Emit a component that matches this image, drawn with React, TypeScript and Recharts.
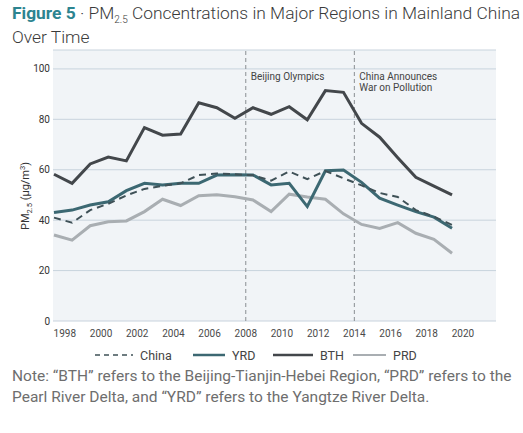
import React from "react";
import {
  LineChart,
  Line,
  XAxis,
  YAxis,
  CartesianGrid,
  ReferenceLine,
  Legend,
  Label,
} from "recharts";

const years = [1998, 1999, 2000, 2001, 2002, 2003, 2004, 2005, 2006, 2007, 2008, 2009, 2010, 2011, 2012, 2013, 2014, 2015, 2016, 2017, 2018, 2019, 2020];
const china = [41, 39, 44, 46.5, 49.8, 52.4, 53.6, 54.6, 57.9, 58.5, 58.2, 57.8, 55.7, 59.3, 56.3, 59.5, 56.6, 53.8, 50.8, 49.2, 44, 41.4, 38.1];
const yrd = [43, 44, 46, 47.3, 51.7, 54.6, 54, 54.6, 54.6, 57.9, 58, 57.9, 54, 54.6, 45.4, 59.6, 59.9, 55, 48.7, 46, 43.4, 41.2, 36.8];
const bth = [58.2, 54.6, 62.3, 65.0, 63.5, 76.7, 73.7, 74.2, 86.6, 84.6, 80.4, 84.6, 82.0, 85.0, 79.8, 91.4, 90.7, 78.4, 72.9, 64.8, 57.0, 53.5, 50.0];
const prd = [34.1, 32.1, 37.8, 39.4, 39.7, 43.4, 48.3, 45.8, 49.7, 50.1, 49.3, 48, 43.4, 50.3, 49.2, 48.3, 42.5, 38.3, 36.7, 39, 34.8, 32.4, 26.9];
const tickYears = [1998, 2000, 2002, 2004, 2006, 2008, 2010, 2012, 2014, 2016, 2018, 2020];
const yTicks = [0, 20, 40, 60, 80, 100];
const events = [
  { year: 2008, lines: ["Beijing Olympics"] },
  { year: 2014, lines: ["China Announces", "War on Pollution"] },
];
const seriesNames = ["China", "YRD", "BTH", "PRD"];

const TICK_SHIFT = 0.6;

const data = years.map((y, i) => ({
  year: y,
  China: china[i],
  YRD: yrd[i],
  BTH: bth[i],
  PRD: prd[i],
}));

const COLORS: Record<string, string> = {
  China: "#3f5157",
  YRD: "#3c6872",
  BTH: "#43474b",
  PRD: "#a9aeb2",
};
const FONT = "Roboto, 'Liberation Sans', Arial, sans-serif";

const eventLabel = (lines: string[]) => (props: any) => {
  const vb = props.viewBox || {};
  const x = (vb.x || 0) + 5;
  const y = (vb.y || 0) + 30;
  return (
    <text x={x} y={y} fontSize={10} fill="#444" fontFamily={FONT}>
      {lines.map((l, i) => (
        <tspan key={i} x={x} dy={i === 0 ? 0 : 10.5}>
          {l}
        </tspan>
      ))}
    </text>
  );
};

const yLabel = () => (
  <text
    transform="translate(29,196) rotate(-90)"
    textAnchor="middle"
    fontSize={11}
    fill="#333"
    fontFamily={FONT}
  >
    PM<tspan fontSize={7.5} dy={3}>2.5</tspan>
    <tspan dy={-3}> (μg/m</tspan>
    <tspan fontSize={7.5} dy={-4}>3</tspan>
    <tspan dy={4}>)</tspan>
  </text>
);

const legendPos: Record<string, { x: number; w: number }> = {
  China: { x: 95, w: 38 },
  YRD: { x: 193, w: 32 },
  BTH: { x: 273, w: 40 },
  PRD: { x: 353, w: 33 },
};

const renderLegend = () => (
  <svg width={523} height={24} style={{ display: "block" }}>
    {seriesNames.map((name) => {
      const p = legendPos[name];
      const isChina = name === "China";
      return (
        <g key={name}>
          <line
            x1={p.x}
            x2={p.x + p.w}
            y1={12}
            y2={12}
            stroke={COLORS[name]}
            strokeWidth={isChina ? 1.5 : name === "PRD" ? 2 : 2.5}
            strokeDasharray={isChina ? "5 4" : undefined}
          />
          <text x={p.x + p.w + 7} y={16.5} fontSize={12.5} fill="#444" fontFamily={FONT}>
            {name}
          </text>
        </g>
      );
    })}
  </svg>
);

export default function App() {
  return (
    <div
      style={{
        position: "absolute",
        left: 0,
        top: 0,
        width: 523,
        height: 433,
        background: "#fff",
        overflow: "hidden",
        fontFamily: FONT,
      }}
    >
      <div
        style={{
          position: "absolute",
          left: 12,
          top: 1,
          fontSize: 17.4,
          lineHeight: "24px",
          color: "#3a3a3a",
          fontWeight: 300,
          whiteSpace: "nowrap",
        }}
      >
        <div>
          <span style={{ color: "#2c8490", fontWeight: 700 }}>Figure 5</span>
          <span> · PM</span>
          <span
            style={{
              fontSize: 10,
              position: "relative",
              top: 4,
              lineHeight: 0,
            }}
          >
            2.5
          </span>
          <span> Concentrations in Major Regions in Mainland China</span>
        </div>
        <div>Over Time</div>
      </div>
      <div style={{ position: "absolute", left: 0, top: 0 }}>
        <LineChart
          width={523}
          height={372}
          data={data}
          margin={{ top: 50, right: 27, left: 0, bottom: 5 }}
        >
          <CartesianGrid
            vertical={false}
            stroke="#c8d3dd"
            fill="#f1f4f7"
            fillOpacity={1}
          />
          <XAxis
            dataKey="year"
            type="number"
            domain={[1997.945, 2022.43]}
            ticks={tickYears.map((t) => t + TICK_SHIFT)}
            tickFormatter={(v: number) => String(Math.round(v - TICK_SHIFT))}
            interval={0}
            axisLine={false}
            tickLine={false}
            tickSize={0}
            tickMargin={9}
            height={22}
            tick={{ fontSize: 10, fill: "#4a4a4a", fontFamily: FONT }}
            allowDataOverflow
          />
          <YAxis
            domain={[0, 107.5]}
            ticks={yTicks}
            interval={0}
            axisLine={false}
            tickLine={false}
            tickSize={0}
            tickMargin={3}
            width={53}
            tick={{ fontSize: 10, fill: "#333", fontFamily: FONT }}
            allowDataOverflow
          >
            <Label content={yLabel} />
          </YAxis>
          {events.map((e) => (
            <ReferenceLine
              key={e.year}
              x={e.year + TICK_SHIFT}
              stroke="#8a8e92"
              strokeDasharray="4 3"
              strokeWidth={1}
              label={eventLabel(e.lines)}
            />
          ))}
          <Legend verticalAlign="bottom" height={24} content={renderLegend} />
          <Line
            dataKey="PRD"
            stroke={COLORS.PRD}
            strokeWidth={3}
            dot={false}
            isAnimationActive={false}
          />
          <Line
            dataKey="BTH"
            stroke={COLORS.BTH}
            strokeWidth={3}
            dot={false}
            isAnimationActive={false}
          />
          <Line
            dataKey="YRD"
            stroke={COLORS.YRD}
            strokeWidth={3}
            dot={false}
            isAnimationActive={false}
          />
          <Line
            dataKey="China"
            stroke={COLORS.China}
            strokeWidth={2}
            strokeDasharray="7 5"
            dot={false}
            isAnimationActive={false}
          />
        </LineChart>
      </div>
      <div
        style={{
          position: "absolute",
          left: 12,
          top: 366,
          fontSize: 15.5,
          lineHeight: "21px",
          color: "#6e6e6e",
          whiteSpace: "nowrap",
        }}
      >
        Note: “BTH” refers to the Beijing-Tianjin-Hebei Region, “PRD” refers to the
        <br />
        Pearl River Delta, and “YRD” refers to the Yangtze River Delta.
      </div>
    </div>
  );
}
